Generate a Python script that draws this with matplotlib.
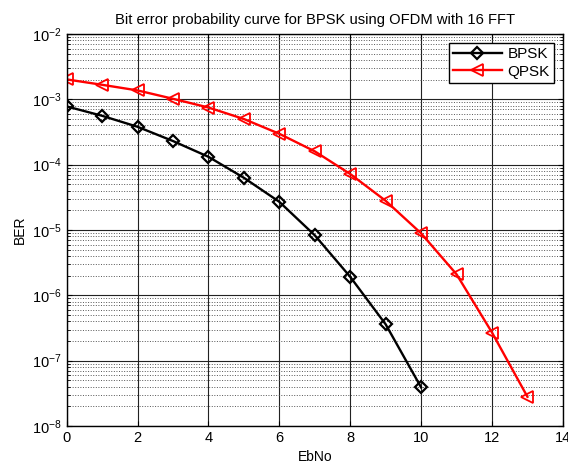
import matplotlib
matplotlib.use("Agg")
import matplotlib.pyplot as plt
import numpy as np

plt.rcParams['font.family'] = ['Liberation Sans', 'DejaVu Sans']

# data
ebno_bpsk = [0, 1, 2, 3, 4, 5, 6, 7, 8, 9, 10]
ber_bpsk = [7.8e-4, 5.6e-4, 3.8e-4, 2.3e-4, 1.32e-4, 6.3e-5, 2.7e-5,
            8.3e-6, 1.92e-6, 3.6e-7, 3.9e-8]
ebno_qpsk = [0, 1, 2, 3, 4, 5, 6, 7, 8, 9, 10, 11, 12, 13]
ber_qpsk = [2.02e-3, 1.67e-3, 1.37e-3, 1.02e-3, 7.5e-4, 5.0e-4, 2.97e-4,
            1.6e-4, 7.2e-5, 2.8e-5, 8.9e-6, 2.1e-6, 2.7e-7, 2.8e-8]

fig = plt.figure(figsize=(5.68, 4.66), dpi=100)
ax = fig.add_axes([0.1174, 0.0858, 0.8736, 0.8412])

ax.semilogy(ebno_bpsk, ber_bpsk, 'k-D', lw=1.7, ms=6, mfc='none', mew=1.6, label='BPSK')
ax.semilogy(ebno_qpsk, ber_qpsk, 'r-<', lw=1.7, ms=9, mfc='none', mew=1.3, label='QPSK')

ax.set_xlim(0, 14)
ax.set_ylim(1e-8, 1e-2)
ax.set_xticks(np.arange(0, 15, 2))

ax.grid(True, which='major', color='#222222', ls='-', lw=0.8)
ax.grid(True, which='minor', color='#555555', ls=':', lw=0.7)
ax.tick_params(which='both', direction='in', top=True, right=True, labelsize=10.5)
for s in ax.spines.values():
    s.set_linewidth(1.0)

ax.set_title('Bit error probability curve for BPSK using OFDM with 16 FFT', fontsize=10.6, pad=7)
ax.set_xlabel('EbNo', fontsize=10, labelpad=4)
ax.set_ylabel('BER', fontsize=10)

leg = ax.legend(loc='upper right', fancybox=False, edgecolor='black', framealpha=1,
                fontsize=11, handlelength=3.2, borderpad=0.25, labelspacing=0.25,
                handletextpad=0.4, borderaxespad=0.6)
leg.get_frame().set_linewidth(1.0)

fig.savefig('out.png', dpi=100)
